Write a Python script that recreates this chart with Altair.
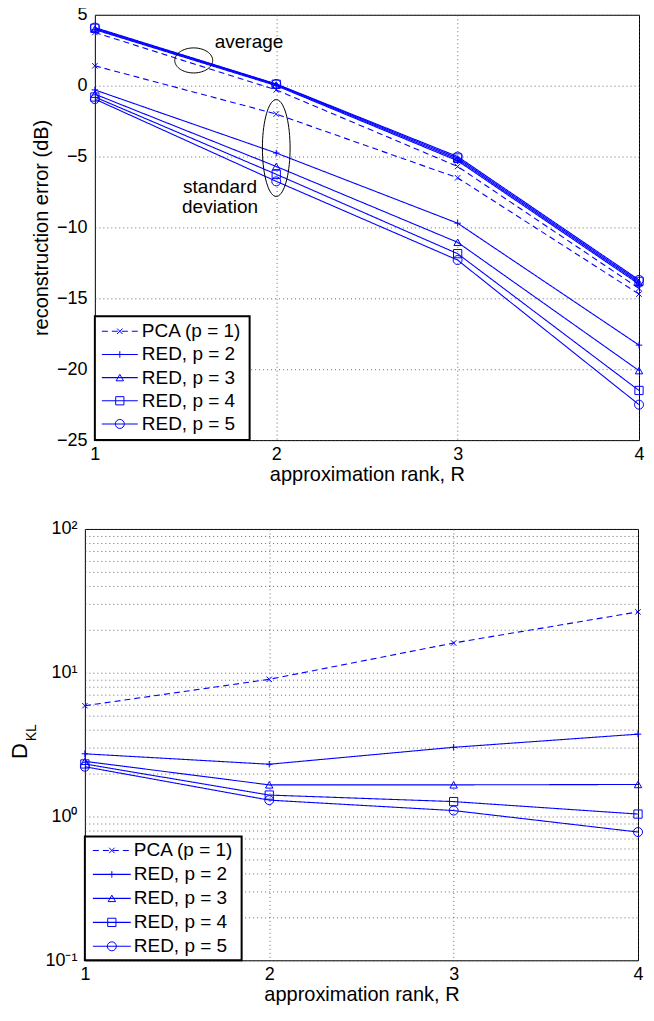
import math
import altair as alt
import pandas as pd

# ---------------- data ----------------
R = [1, 2, 3, 4]
series = ["PCA (p = 1)", "RED, p = 2", "RED, p = 3", "RED, p = 4", "RED, p = 5"]
methods = ["PCA", "RED", "RED", "RED", "RED"]

# top panel: reconstruction error (dB)
avg_pca = [3.75, -0.3, -5.7, -14.3]
avg_p2 = [3.95, 0.0, -5.3, -14.0]
avg_p3 = [4.0, 0.05, -5.2, -13.9]
avg_p4 = [4.05, 0.1, -5.1, -13.8]
avg_p5 = [4.1, 0.12, -5.0, -13.7]
std_pca = [1.4, -2.0, -6.5, -14.7]
std_p2 = [-0.3, -4.75, -9.7, -18.3]
std_p3 = [-0.6, -5.7, -11.05, -20.1]
std_p4 = [-0.8, -6.25, -11.85, -21.5]
std_p5 = [-0.95, -6.75, -12.3, -22.5]

# bottom panel: D_KL
dkl_pca = [5.9, 9.0, 16.1, 26.5]
dkl_p2 = [2.73, 2.31, 3.03, 3.74]
dkl_p3 = [2.42, 1.66, 1.66, 1.67]
dkl_p4 = [2.32, 1.41, 1.27, 1.04]
dkl_p5 = [2.22, 1.30, 1.10, 0.78]

top_ticks = [-25, -20, -15, -10, -5, 0, 5]
log_ticks = [m * 10 ** e for e in (-1, 0, 1) for m in range(1, 10)] + [100]

# ---------------- styles ----------------
BLUE = "#0000ff"
FONT = "Liberation Sans"
PATH_X = "M-1,-1L1,1M-1,1L1,-1"
PATH_PLUS = "M-1,0L1,0M0,-1L0,1"


def ellipse_path(rx, ry):
    pts = []
    for k in range(0, 72):
        t = 2 * math.pi * k / 72
        pts.append(f"{rx * math.cos(t):.4f},{ry * math.sin(t):.4f}")
    return "M" + "L".join(pts) + "Z"


shape_scale = alt.Scale(domain=series, range=[PATH_X, PATH_PLUS, "triangle-up", "square", "circle"])
size_scale = alt.Scale(domain=series, range=[30, 81, 81, 49, 64])
dash_scale = alt.Scale(domain=["PCA", "RED"], range=[[6, 4], [1, 0]])

W1, H1 = 545, 426
W2, H2 = 554, 432


def long_df(groups):
    rows = []
    for stat, vals in groups:
        for name, meth, v in zip(series, methods, vals):
            for r, y in zip(R, v):
                rows.append({"R": r, "value": y, "series": name, "method": meth, "key": name + stat})
    return pd.DataFrame(rows)


df_top = long_df([("avg", [avg_pca, avg_p2, avg_p3, avg_p4, avg_p5]),
                  ("std", [std_pca, std_p2, std_p3, std_p4, std_p5])])
df_bot = long_df([("dkl", [dkl_pca, dkl_p2, dkl_p3, dkl_p4, dkl_p5])])


def data_layers(df, xenc, yenc):
    base = alt.Chart(df)
    lines = base.mark_line(color=BLUE, strokeWidth=1.1).encode(
        x=xenc, y=yenc, detail="key:N",
        strokeDash=alt.StrokeDash("method:N", scale=dash_scale, legend=None),
    )
    pts = base.mark_point(filled=False, color=BLUE, strokeWidth=1, opacity=1).encode(
        x="R:Q", y="value:Q",
        shape=alt.Shape("series:N", scale=shape_scale, legend=None),
        size=alt.Size("series:N", scale=size_scale, legend=None),
    )
    return [lines, pts]


def legend_layers(box, row_y0, row_dy, lx0, lx1, mx, tx):
    ldf = pd.DataFrame({"series": series, "method": methods,
                        "py": [row_y0 + i * row_dy for i in range(len(series))]})
    boxl = alt.Chart(pd.DataFrame({"a": [0]})).mark_rect(
        fill="white", stroke="black", strokeWidth=2).encode(
        x=alt.value(box[0]), x2=alt.value(box[1]), y=alt.value(box[2]), y2=alt.value(box[3]))
    lb = alt.Chart(ldf)
    rules = lb.mark_rule(color=BLUE, strokeWidth=1.1).encode(
        x=alt.value(lx0), x2=alt.value(lx1),
        y=alt.Y("py:Q", scale=None, axis=None),
        strokeDash=alt.StrokeDash("method:N", scale=dash_scale, legend=None))
    pts = lb.mark_point(filled=False, color=BLUE, strokeWidth=1, opacity=1).encode(
        x=alt.value(mx), y=alt.Y("py:Q", scale=None, axis=None),
        shape=alt.Shape("series:N", scale=shape_scale, legend=None),
        size=alt.Size("series:N", scale=size_scale, legend=None))
    txt = lb.mark_text(align="left", baseline="middle", fontSize=19, font=FONT, color="black").encode(
        x=alt.value(tx), y=alt.Y("py:Q", scale=None, axis=None), text="series:N")
    return [boxl, rules, pts, txt]


# ---------------- top panel ----------------
x_top = alt.X("R:Q", scale=alt.Scale(domain=[1, 4], nice=False, zero=False),
              axis=alt.Axis(values=R, format="d", title="approximation rank, R",
                            labelPadding=5, titlePadding=1))
y_top = alt.Y("value:Q", scale=alt.Scale(domain=[-25, 5], nice=False, zero=False),
              axis=alt.Axis(values=top_ticks, title="reconstruction error (dB)",
                            labelPadding=8, titlePadding=5))

ann = pd.DataFrame({"R": [1.85, 1.69, 1.69], "value": [3.08, -7.17, -8.56],
                    "text": ["average", "standard", "deviation"]})
ann_text = alt.Chart(ann).mark_text(fontSize=19, font=FONT, color="black").encode(
    x="R:Q", y="value:Q", text="text:N")
ell_avg = alt.Chart(pd.DataFrame({"R": [1.545], "value": [1.78]})).mark_point(
    shape=ellipse_path(1.0, 0.66), size=38 ** 2, color="black", filled=False, strokeWidth=1, opacity=1
).encode(x="R:Q", y="value:Q")
ell_std = alt.Chart(pd.DataFrame({"R": [2.0], "value": [-4.4]})).mark_point(
    shape=ellipse_path(0.286, 1.0), size=97 ** 2, color="black", filled=False, strokeWidth=1, opacity=1
).encode(x="R:Q", y="value:Q")

top = alt.layer(
    *data_layers(df_top, x_top, y_top), ann_text, ell_avg, ell_std,
    *legend_layers((0, 155, H1 - 124, H1), H1 - 109, 23.2, 7, 43, 25, 47),
).properties(width=W1, height=H1)

# ---------------- bottom panel ----------------
x_bot = alt.X("R:Q", scale=alt.Scale(domain=[1, 4], nice=False, zero=False),
              axis=alt.Axis(values=R, format="d", title="approximation rank, R",
                            labelPadding=5, titlePadding=1))
label_expr = ("datum.value == 100 ? '10\u00b2' : datum.value == 10 ? '10\u00b9' : "
              "datum.value == 1 ? '10\u2070' : datum.value == 0.1 ? '10\u207b\u00b9' : ''")
y_bot = alt.Y("value:Q", scale=alt.Scale(type="log", domain=[0.1, 100], nice=False),
              axis=alt.Axis(values=log_ticks, labelExpr=label_expr, title="D",
                            titleFontSize=22, titleX=-65, titleY=H2 / 2 + 6,
                            titleAlign="center", titleBaseline="middle", titleAngle=270,
                            labelPadding=8))

kl_text = alt.Chart(pd.DataFrame({"t": ["KL"]})).mark_text(
    angle=270, fontSize=14, font=FONT, color="black", baseline="middle", align="center").encode(
    x=alt.value(-53), y=alt.value(H2 / 2 - 12), text="t:N")

bottom = alt.layer(
    *data_layers(df_bot, x_bot, y_bot), kl_text,
    *legend_layers((0, 157, H2 - 124, H2), H2 - 110, 24, 8, 46, 27, 49),
).properties(width=W2, height=H2)

spacer = alt.Chart(pd.DataFrame({"a": [0]})).mark_point(opacity=0).properties(
    width=10, height=10, view=alt.ViewBackground(stroke="transparent"))

top_row = alt.hconcat(spacer, top, spacing=0, bounds="flush")

chart = alt.vconcat(top_row, bottom, spacing=34).properties(
    padding={"left": 0, "top": -4, "right": 0, "bottom": 0}
).configure(font=FONT).configure_view(
    stroke="black", strokeWidth=1
).configure_axis(
    labelFont=FONT, titleFont=FONT, labelFontSize=18, titleFontSize=20,
    labelColor="black", titleColor="black", titleFontWeight="normal",
    ticks=False, domain=False, labelFlush=False, labelOverlap=False,
    grid=True, gridColor="#444444", gridDash=[1, 3], gridWidth=1, gridOpacity=0.8,
)

chart.save("out.html", embed_options={"renderer": "svg", "actions": False})
